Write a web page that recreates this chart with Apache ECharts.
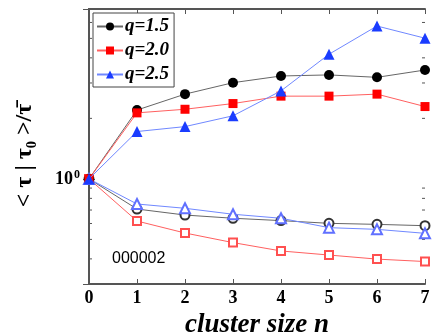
<!DOCTYPE html>
<html>
<head>
<meta charset="utf-8">
<script src="https://cdn.jsdelivr.net/npm/echarts@6/dist/echarts.min.js"></script>
<style>html,body{margin:0;padding:0;background:#fff}#c{width:436px;height:336px}</style>
</head>
<body>
<div id="c"></div>
<script>
const clusterSize = [0, 1, 2, 3, 4, 5, 6, 7];
const q15Filled = [1, 2.20, 2.64, 3.01, 3.25, 3.29, 3.20, 3.48];
const q20Filled = [1, 2.13, 2.22, 2.37, 2.58, 2.58, 2.64, 2.29];
const q25Filled = [1, 1.72, 1.82, 2.06, 2.74, 4.17, 5.76, 5.01];
const q15Open = [1, 0.708, 0.661, 0.637, 0.620, 0.601, 0.594, 0.585];
const q20Open = [1, 0.617, 0.538, 0.482, 0.438, 0.418, 0.399, 0.388];
const q25Open = [1, 0.750, 0.714, 0.667, 0.637, 0.572, 0.561, 0.536];
const minorTickValues = [0.4, 0.5, 0.6, 0.7, 0.8, 0.9, 2, 3, 4, 5, 6];
const legendNames = ['q=1.5', 'q=2.0', 'q=2.5'];
const xTickLabels = ['0', '1', '2', '3', '4', '5', '6', '7'];

const pair = (ys) => clusterSize.map((x, i) => [x, ys[i]]);
const serif = 'Liberation Serif';
const axisColor = '#555';

const chart = echarts.init(document.getElementById('c'), null, {renderer: 'canvas'});
const option = {
  animation: false,
  backgroundColor: '#fff',
  grid: {left: 89, right: 11, top: 9, bottom: 52, containLabel: false, outerBoundsMode: 'none'},
  legend: {
    data: legendNames,
    left: 93, top: 13,
    orient: 'vertical',
    itemGap: 5,
    itemWidth: 26, itemHeight: 10,
    padding: [4, 5, 3, 3],
    borderColor: '#444', borderWidth: 1,
    backgroundColor: '#fff',
    textStyle: {fontFamily: serif, fontWeight: 'bold', fontStyle: 'italic', fontSize: 19, color: '#000', padding: [0, 0, 0, -3]}
  },
  xAxis: [{
    type: 'value', min: 0, max: 7, interval: 1,
    name: 'cluster size n', nameLocation: 'middle', nameGap: 25,
    nameTextStyle: {fontFamily: serif, fontWeight: 'bold', fontStyle: 'italic', fontSize: 27, color: '#000'},
    axisLine: {lineStyle: {color: axisColor, width: 2}},
    axisTick: {inside: true, length: 5, lineStyle: {color: axisColor}},
    axisLabel: {margin: 5, fontFamily: serif, fontWeight: 'bold', fontSize: 18, color: '#000',
      formatter: (v) => xTickLabels[Math.round(v)]},
    splitLine: {show: false}
  }, {
    type: 'value', min: 0, max: 7, interval: 1, position: 'top',
    axisLine: {lineStyle: {color: axisColor, width: 2}},
    axisTick: {inside: true, length: 5, lineStyle: {color: axisColor}},
    axisLabel: {show: false}, splitLine: {show: false}
  }],
  yAxis: [{
    type: 'log', logBase: 10, min: 0.3, max: 7,
    name: '< τ | τ₀ >/τ̄', nameLocation: 'middle', nameGap: 52, nameRotate: 90,
    nameTextStyle: {fontFamily: serif, fontWeight: 'bold', fontSize: 24, color: '#000', padding: [0, 18, 0, 0]},
    axisLine: {lineStyle: {color: axisColor, width: 2}},
    axisTick: {inside: true, length: 6, lineStyle: {color: axisColor}},
    axisLabel: {
      showMinLabel: false, showMaxLabel: false, margin: 9,
      formatter: (v) => Math.abs(v - 1) < 1e-6 ? '{a|10}{s|0}' : '',
      rich: {
        a: {fontFamily: serif, fontWeight: 'bold', fontSize: 18, color: '#000', lineHeight: 20},
        s: {fontFamily: serif, fontWeight: 'bold', fontSize: 12, color: '#000', verticalAlign: 'top', lineHeight: 12, padding: [0, 0, 8, 1]}
      }
    },
    splitLine: {show: false}
  }, {
    type: 'log', logBase: 10, min: 0.3, max: 7, position: 'right',
    axisLine: {lineStyle: {color: axisColor, width: 2}},
    axisTick: {inside: true, length: 6, lineStyle: {color: axisColor}},
    axisLabel: {show: false}, splitLine: {show: false}
  }],
  graphic: [{
    type: 'text', left: 112, top: 251,
    style: {text: '000002', fontFamily: 'Liberation Sans', fontSize: 16, fill: '#000'}
  }],
  series: [
    {name: 'open1.5', type: 'line', data: pair(q15Open), symbol: 'emptyCircle', symbolSize: 9,
      itemStyle: {color: '#333', borderWidth: 1}, lineStyle: {color: '#666', width: 1}, z: 3},
    {name: 'open2.0', type: 'line', data: pair(q20Open), symbol: 'emptyRect', symbolSize: 8,
      itemStyle: {color: '#ff5050', borderWidth: 1}, lineStyle: {color: '#ff6060', width: 1}, z: 3},
    {name: 'open2.5', type: 'line', data: pair(q25Open), symbol: 'emptyTriangle', symbolSize: 10,
      itemStyle: {color: '#6070ff', borderWidth: 1}, lineStyle: {color: '#7088ff', width: 1}, z: 4},
    {name: 'q=1.5', type: 'line', data: pair(q15Filled), symbol: 'circle', symbolSize: 10,
      itemStyle: {color: '#000'}, lineStyle: {color: '#666', width: 1}, z: 5},
    {name: 'q=2.0', type: 'line', data: pair(q20Filled), symbol: 'rect', symbolSize: 9,
      itemStyle: {color: '#f00'}, lineStyle: {color: '#ff6060', width: 1}, z: 6},
    {name: 'q=2.5', type: 'line', data: pair(q25Filled), symbol: 'triangle', symbolSize: 11,
      itemStyle: {color: '#1a3cff'}, lineStyle: {color: '#7088ff', width: 1}, z: 7},
    {name: 'minorTicks', type: 'custom', silent: true, z: 2,
      data: minorTickValues.map(v => [0, v]),
      renderItem: (params, api) => {
        const v = api.value(1);
        const l = api.coord([0, v]);
        const r = api.coord([7, v]);
        return {type: 'group', children: [
          {type: 'line', shape: {x1: l[0], y1: l[1], x2: l[0] + 3, y2: l[1]}, style: {stroke: axisColor, lineWidth: 1}},
          {type: 'line', shape: {x1: r[0], y1: r[1], x2: r[0] - 3, y2: r[1]}, style: {stroke: axisColor, lineWidth: 1}}
        ]};
      }}
  ]
};
chart.setOption(option);
</script>
</body>
</html>
